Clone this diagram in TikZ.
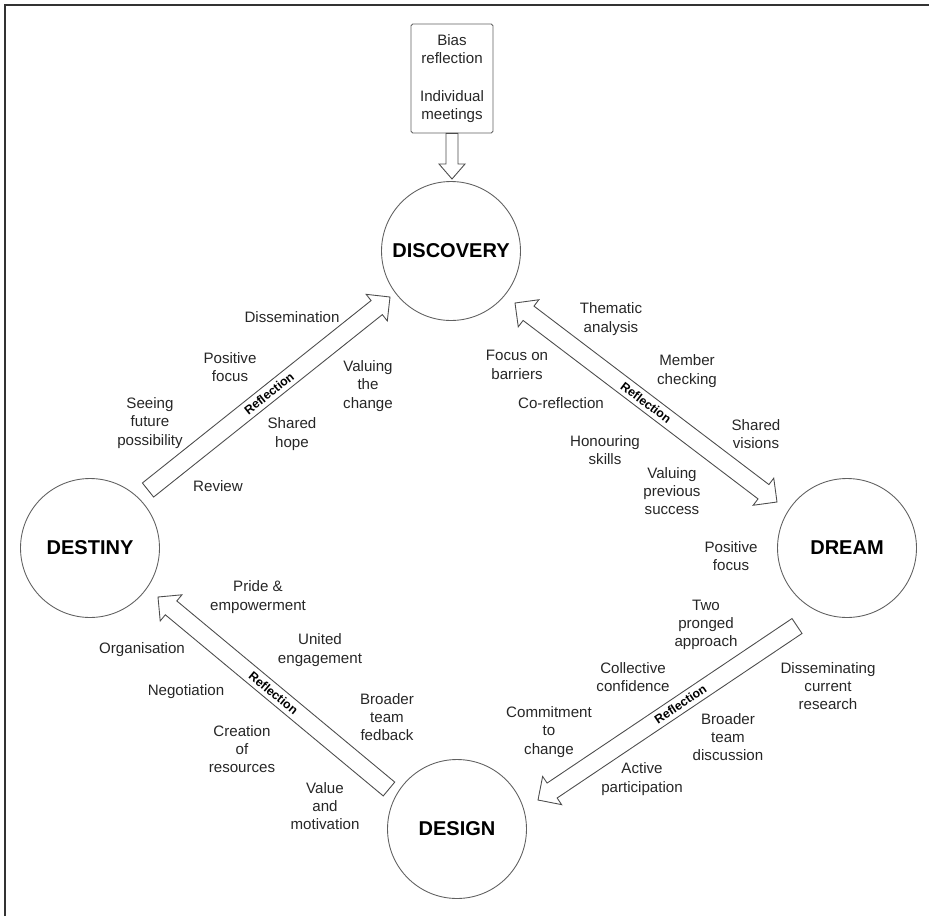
\documentclass[tikz,border=0pt]{standalone}
\usepackage{fontspec}
\setmainfont{Liberation Sans}
\usetikzlibrary{calc}

\tikzset{
  phase/.style={circle, draw=gray!75!black, line width=0.5pt, minimum size=2.78cm,
    font=\fontsize{11.4}{13}\selectfont\bfseries},
  idea/.style={align=center, text=black!85, font=\fontsize{8.6}{10.4}\selectfont},
  arrowline/.style={draw=gray!60!black, line width=0.5pt, fill=white, line join=miter},
  tag/.style={sloped, inner sep=0.5pt, font=\fontsize{7}{8}\selectfont\bfseries}
}

\newcommand{\shafthalf}{0.18cm}
\newcommand{\headhalf}{0.34cm}
\newcommand{\headlen}{0.34cm}

% hollow arrow from #1 to #2
\newcommand{\onearrow}[2]{%
  \coordinate (hp) at ($(#2)!\headlen!(#1)$);
  \draw[arrowline] ($(#1)!\shafthalf!90:(#2)$) -- ($(hp)!\shafthalf!-90:(#1)$)
    -- ($(hp)!\headhalf!-90:(#1)$) -- (#2) -- ($(hp)!\headhalf!90:(#1)$)
    -- ($(hp)!\shafthalf!90:(#1)$) -- ($(#1)!\shafthalf!-90:(#2)$) -- cycle;
}
% hollow arrow with a head at both ends
\newcommand{\twoarrow}[2]{%
  \coordinate (ha) at ($(#1)!\headlen!(#2)$);
  \coordinate (hb) at ($(#2)!\headlen!(#1)$);
  \draw[arrowline] (#1) -- ($(ha)!\headhalf!90:(#2)$) -- ($(ha)!\shafthalf!90:(#2)$)
    -- ($(hb)!\shafthalf!-90:(#1)$) -- ($(hb)!\headhalf!-90:(#1)$) -- (#2)
    -- ($(hb)!\headhalf!90:(#1)$) -- ($(hb)!\shafthalf!90:(#1)$)
    -- ($(ha)!\shafthalf!-90:(#2)$) -- ($(ha)!\headhalf!-90:(#2)$) -- cycle;
}

\begin{document}
\begin{tikzpicture}[x=0.02cm, y=-0.02cm]
  \useasboundingbox (0,0) rectangle (929,916);
  \draw[black!80, line width=1.2pt] (5,916) -- (5,5) -- (929,5);

  % the four phases
  \node[phase] (discovery) at (451,251) {DISCOVERY};
  \node[phase] (dream) at (847,548) {DREAM};
  \node[phase] (design) at (457,829) {DESIGN};
  \node[phase] (destiny) at (90,548) {DESTINY};

  \node[draw=gray!75!black, line width=0.5pt, rounded corners=1pt, minimum width=1.64cm,
    minimum height=2.18cm, idea] (biasbox) at (452,78.5)
    {Bias\\reflection\\[11pt]Individual\\meetings};

  % arrow ends
  \coordinate (boxTip) at (452,179);
  \coordinate (upTail) at (148,490);
  \coordinate (upTip) at (390,297);
  \coordinate (drA) at (515,303);
  \coordinate (drB) at (777,502);
  \coordinate (dnTail) at (797,626);
  \coordinate (dnTip) at (538,800);
  \coordinate (backTail) at (389,789);
  \coordinate (backTip) at (158,597);

  {\renewcommand{\shafthalf}{0.12cm}\renewcommand{\headhalf}{0.26cm}\renewcommand{\headlen}{0.3cm}
   \onearrow{biasbox.south}{boxTip}}
  \onearrow{upTail}{upTip}
  \twoarrow{drA}{drB}
  \onearrow{dnTail}{dnTip}
  \onearrow{backTail}{backTip}

  \path (upTail) -- (upTip) node[tag, pos=0.5] {Reflection};
  \path (drA) -- (drB) node[tag, pos=0.5] {Reflection};
  \path (dnTail) -- (dnTip) node[tag, pos=0.45] {Reflection};
  \path (backTail) -- (backTip) node[tag, pos=0.5] {Reflection};

  % destiny to discovery
  \node[idea] (dissem) at (292,317) {Dissemination};
  \node[idea] (posfocus) at (230,367) {Positive\\focus};
  \node[idea] (seeing) at (150,423) {Seeing\\future\\possibility};
  \node[idea] (valchange) at (368,386) {Valuing\\the\\change};
  \node[idea] (hope) at (292,434) {Shared\\hope};
  \node[idea] (review) at (218,486) {Review};

  % discovery to dream
  \node[idea] (thematic) at (611,319) {Thematic\\analysis};
  \node[idea] (barriers) at (517,365) {Focus on\\barriers};
  \node[idea] (member) at (687,371) {Member\\checking};
  \node[idea] (coref) at (561,403) {Co-reflection};
  \node[idea] (visions) at (756,434) {Shared\\visions};
  \node[idea] (skills) at (605,450) {Honouring\\skills};
  \node[idea] (success) at (672,491) {Valuing\\previous\\success};
  \node[idea] (dreamfocus) at (731,556) {Positive\\focus};

  % dream to design
  \node[idea] (pronged) at (706,625) {Two\\pronged\\approach};
  \node[idea] (confidence) at (633,677) {Collective\\confidence};
  \node[idea] (research) at (828,686) {Disseminating\\current\\research};
  \node[idea] (commit) at (549,732) {Commitment\\to\\change};
  \node[idea] (discussion) at (728,737) {Broader\\team\\discussion};
  \node[idea] (active) at (642,779) {Active\\participation};

  % design to destiny
  \node[idea] (pride) at (258,597) {Pride \&\\empowerment};
  \node[idea] (united) at (320,650) {United\\engagement};
  \node[idea] (organ) at (142,650) {Organisation};
  \node[idea] (negot) at (186,692) {Negotiation};
  \node[idea] (fedback) at (387,717) {Broader\\team\\fedback};
  \node[idea] (resources) at (242,749) {Creation\\of\\resources};
  \node[idea] (motiv) at (325,806) {Value\\and\\motivation};
\end{tikzpicture}
\end{document}
